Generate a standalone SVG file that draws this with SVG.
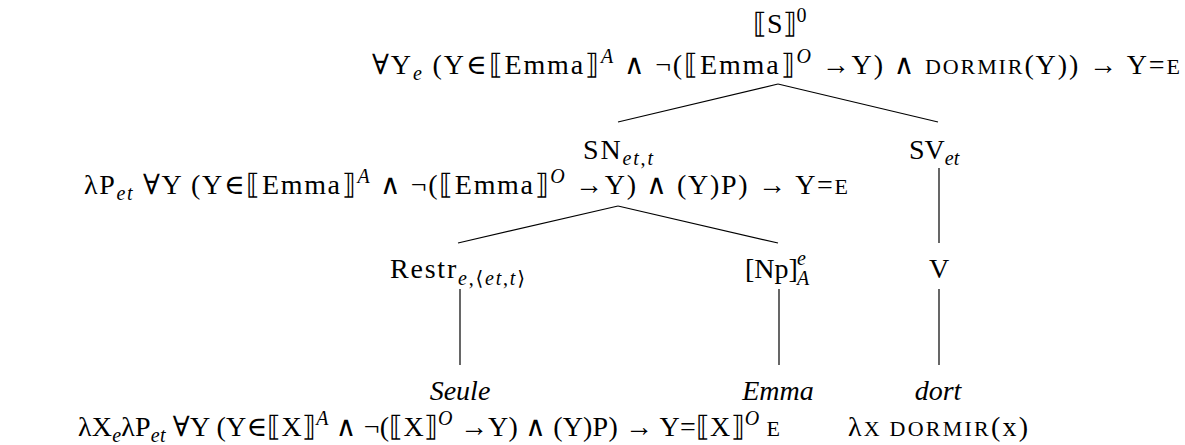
<svg xmlns="http://www.w3.org/2000/svg" width="1185" height="445" viewBox="0 0 1185 445">
<style>
.t{font-family:"Liberation Serif","DejaVu Serif",serif;font-size:28px;fill:#000}
.s{font-size:20px;font-style:italic}
.r{font-size:20px;font-style:normal}
.sc{font-size:22px}
.i{font-style:italic}
.e line{stroke:#000;stroke-width:1.2}
</style>
<g id="connectors" class="e">
<line x1="778" y1="84" x2="618" y2="122"/>
<line x1="778" y1="84" x2="938" y2="122"/>
<line x1="618" y1="206" x2="458" y2="243"/>
<line x1="618" y1="206" x2="778" y2="243"/>
<line x1="939" y1="168" x2="939" y2="243"/>
<line x1="939" y1="289" x2="939" y2="365"/>
<line x1="460" y1="289" x2="460" y2="365"/>
<line x1="779" y1="289" x2="779" y2="365"/>
</g>
<g id="node-S">
<text class="t" x="753" y="33">⟦S⟧<tspan class="r" dy="-11">0</tspan></text>
<text class="t" x="372" y="74" textLength="808" lengthAdjust="spacing">∀Y<tspan class="s" dy="6">e</tspan><tspan dy="-6"> (Y∈⟦Emma⟧</tspan><tspan class="s" dy="-11">A</tspan><tspan dy="11"> ∧ ¬(⟦Emma⟧</tspan><tspan class="s" dy="-11">O</tspan><tspan dy="11"> →Y) ∧ </tspan><tspan class="sc">DORMIR</tspan>(Y)) → Y=<tspan class="sc">E</tspan></text>
</g>
<g id="node-SN">
<text class="t" x="583" y="159" textLength="70" lengthAdjust="spacing">SN<tspan class="s" dy="6">et</tspan><tspan class="r">,</tspan><tspan class="s">t</tspan></text>
<text class="t" x="84" y="194" textLength="764" lengthAdjust="spacing">λP<tspan class="s" dy="6">et</tspan><tspan dy="-6"> ∀Y (Y∈⟦Emma⟧</tspan><tspan class="s" dy="-11">A</tspan><tspan dy="11"> ∧ ¬(⟦Emma⟧</tspan><tspan class="s" dy="-11">O</tspan><tspan dy="11"> →Y) ∧ (Y)P) → Y=</tspan><tspan class="sc">E</tspan></text>
</g>
<g id="node-SV">
<text class="t" x="909" y="159">SV<tspan class="s" dy="6">et</tspan></text>
</g>
<g id="node-Restr">
<text class="t" x="390" y="278" textLength="135" lengthAdjust="spacing">Restr<tspan class="s" dy="7">e</tspan><tspan class="r">,⟨</tspan><tspan class="s">et</tspan><tspan class="r">,</tspan><tspan class="s">t</tspan><tspan class="r">⟩</tspan></text>
</g>
<g id="node-Np">
<text class="t" x="745" y="278">[Np]</text>
<text class="t s" x="797" y="265">e</text>
<text class="t s" x="797" y="285">A</text>
</g>
<g id="node-V">
<text class="t" x="939" y="278" text-anchor="middle">V</text>
</g>
<g id="node-Seule">
<text class="t i" x="460" y="400" text-anchor="middle">Seule</text>
<text class="t" x="78" y="436" textLength="702" lengthAdjust="spacing">λX<tspan class="s" dy="6">e</tspan><tspan dy="-6">λP</tspan><tspan class="s" dy="6">et</tspan><tspan dy="-6"> ∀Y (Y∈⟦X⟧</tspan><tspan class="s" dy="-11">A</tspan><tspan dy="11"> ∧ ¬(⟦X⟧</tspan><tspan class="s" dy="-11">O</tspan><tspan dy="11"> →Y) ∧ (Y)P) → Y=⟦X⟧</tspan><tspan class="s" dy="-11">O</tspan><tspan dy="11"> </tspan><tspan class="sc">E</tspan></text>
</g>
<g id="node-Emma">
<text class="t i" x="778" y="400" text-anchor="middle">Emma</text>
</g>
<g id="node-dort">
<text class="t i" x="938" y="400" text-anchor="middle">dort</text>
<text class="t" x="848" y="436" textLength="180" lengthAdjust="spacing">λ<tspan class="sc">X DORMIR</tspan>(x)</text>
</g>
</svg>
